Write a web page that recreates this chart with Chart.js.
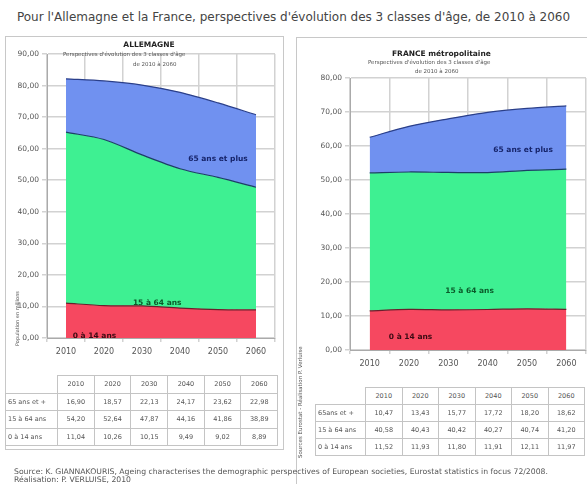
<!DOCTYPE html>
<html>
<head>
<meta charset="utf-8">
<script src="https://cdn.jsdelivr.net/npm/chart.js@4.4.0/dist/chart.umd.min.js"></script>
<style>
    body { margin: 0; background: #fff; font-family: "DejaVu Sans", Verdana, sans-serif; }
    #page { position: relative; width: 587px; height: 484px; overflow: hidden; }
    .abs { position: absolute; white-space: nowrap; }
    .panel { position: absolute; border: 1px solid #c8c8c8; box-sizing: border-box; }
    canvas { position: absolute; }
    table { position: absolute; border-collapse: collapse; font-size: 6.5px; color: #555; table-layout: fixed; }
    td { border: 1px solid #c4c4c4; text-align: center; padding: 0; overflow: hidden; white-space: nowrap; }
    td.lab { text-align: left; padding-left: 2px; }
    td.blank { border: none; }
</style>
</head>
<body>
<div id="page">
    <div class="abs" style="left:0;top:10px;width:587px;text-align:center;font-size:12px;color:#444;">Pour l'Allemagne et la France, perspectives d'évolution des 3 classes d'âge, de 2010 à 2060</div>

    <div class="panel" style="left:5px;top:36px;width:279px;height:414px;"></div>
    <div class="panel" style="left:296px;top:37px;width:292px;height:460px;"></div>

    <canvas id="chartDe" width="278" height="330" style="left:5px;top:36px;"></canvas>
    <canvas id="chartFr" width="290" height="340" style="left:297px;top:37px;"></canvas>

    <div class="abs" style="left:0;top:40px;width:298px;text-align:center;font-size:7.5px;font-weight:bold;color:#222;">ALLEMAGNE</div>
    <div class="abs" style="left:63px;top:51px;font-size:5.5px;color:#555;">Perspectives d'évolution des 3 classes d'âge</div>
    <div class="abs" style="left:133px;top:61px;font-size:5.5px;color:#555;">de 2010 à 2060</div>

    <div class="abs" style="left:392px;top:49px;font-size:7.5px;font-weight:bold;color:#222;">FRANCE métropolitaine</div>
    <div class="abs" style="left:368px;top:59px;font-size:5.5px;color:#555;">Perspectives d'évolution des 3 classes d'âge</div>
    <div class="abs" style="left:415px;top:68px;font-size:5.5px;color:#555;">de 2010 à 2060</div>

    <div class="abs" style="left:14px;top:346px;font-size:5px;color:#555;transform:rotate(-90deg);transform-origin:0 0;">Population en millions</div>
    <div class="abs" style="left:297px;top:458px;font-size:5.5px;color:#555;transform:rotate(-90deg);transform-origin:0 0;">Sources Eurostat - Réalisation P. Verluise</div>

    <table id="tableDe" style="left:5px;top:375px;width:272px;"></table>
    <table id="tableFr" style="left:315px;top:387px;width:269px;"></table>

    <div class="abs" style="left:14px;top:467px;font-size:7.7px;color:#555;">Source: K. GIANNAKOURIS, Ageing characterises the demographic perspectives of European societies, Eurostat statistics in focus 72/2008.</div>
    <div class="abs" style="left:14px;top:475px;font-size:7.7px;color:#555;">Réalisation: P. VERLUISE, 2010</div>
</div>

<script>
// categories
const years = ['2010', '2020', '2030', '2040', '2050', '2060'];
const rowLabels = ['65 ans et +', '15 à 64 ans', '0 à 14 ans'];
const rowLabelsFr = ['65ans et +', '15 à 64 ans', '0 à 14 ans'];

// Allemagne (millions)
const de65plus = [16.90, 18.57, 22.13, 24.17, 23.62, 22.98];
const de15to64 = [54.20, 52.64, 47.87, 44.16, 41.86, 38.89];
const de0to14 = [11.04, 10.26, 10.15, 9.49, 9.02, 8.89];

// France métropolitaine (millions)
const fr65plus = [10.47, 13.43, 15.77, 17.72, 18.20, 18.62];
const fr15to64 = [40.58, 40.43, 40.42, 40.27, 40.74, 41.20];
const fr0to14 = [11.52, 11.93, 11.80, 11.91, 12.11, 11.97];

const fmt = v => v.toFixed(2).replace('.', ',');

/**
 * Draws the class names inside the areas, placed with the chart scales
 */
const areaLabels = {
    id: 'areaLabels',
    afterDatasetsDraw(chart, args, opts) {
        const ctx = chart.ctx;
        ctx.save();
        ctx.font = 'bold 7.5px "DejaVu Sans", sans-serif';
        ctx.textAlign = 'center';
        ctx.textBaseline = 'middle';
        (opts.items || []).forEach(item => {
            const x = chart.scales.x.getPixelForValue(item.at);
            const y = chart.scales.y.getPixelForValue(item.value);
            ctx.fillStyle = item.color;
            ctx.fillText(item.text, x, y);
        });
        ctx.restore();
    }
};

function makeChart(id, young, adult, old, yMax, geo, labels) {
    const ctx = document.getElementById(id);
    return new Chart(ctx, {
        type: 'line',
        data: {
            labels: years,
            datasets: [
                { label: '0 à 14 ans', data: young, fill: 'origin', backgroundColor: 'rgb(246,72,96)', borderColor: '#6a1f2c', borderWidth: 1.2 },
                { label: '15 à 64 ans', data: adult, fill: '-1', backgroundColor: 'rgb(62,240,146)', borderColor: '#1c3f66', borderWidth: 1.2 },
                { label: '65 ans et plus', data: old, fill: '-1', backgroundColor: 'rgb(112,145,240)', borderColor: '#2a3f8a', borderWidth: 1.2 }
            ]
        },
        options: {
            responsive: false,
            animation: false,
            devicePixelRatio: 1,
            elements: { point: { radius: 0 }, line: { tension: 0.3 } },
            layout: { padding: { left: 0, top: geo.top, right: geo.right, bottom: geo.bottom } },
            scales: {
                x: {
                    offset: true,
                    grid: { offset: true, color: '#d2d2d2', lineWidth: 1.5, tickLength: 4 },
                    border: { color: '#aaa' },
                    ticks: { color: '#555', font: { size: 8, family: 'DejaVu Sans' }, padding: 5, maxRotation: 0 },
                    afterFit: s => { s.height = 20; }
                },
                y: {
                    stacked: true,
                    min: 0,
                    max: yMax,
                    grid: { color: '#d2d2d2', lineWidth: 1.5, tickLength: 5 },
                    border: { color: '#aaa' },
                    ticks: { stepSize: 10, color: '#555', font: { size: 7.5, family: 'DejaVu Sans' }, padding: 3, callback: v => fmt(v) },
                    afterFit: s => { s.width = geo.left; }
                }
            },
            plugins: {
                legend: { display: false },
                tooltip: { enabled: false },
                areaLabels: { items: labels }
            }
        },
        plugins: [areaLabels]
    });
}

makeChart('chartDe', de0to14, de15to64, de65plus, 90,
    { left: 42, top: 18, right: 8, bottom: 8 },
    [
        { text: '65 ans et plus', at: 4, value: 56.7, color: '#16246a' },
        { text: '15 à 64 ans', at: 2.4, value: 11.1, color: '#0b5a2a' },
        { text: '0 à 14 ans', at: 0.75, value: 0.7, color: '#3a0a12' }
    ]);

makeChart('chartFr', fr0to14, fr15to64, fr65plus, 80,
    { left: 53, top: 41, right: 1, bottom: 7 },
    [
        { text: '65 ans et plus', at: 3.9, value: 58.8, color: '#16246a' },
        { text: '15 à 64 ans', at: 2.54, value: 17.3, color: '#0b5a2a' },
        { text: '0 à 14 ans', at: 1.04, value: 3.8, color: '#3a0a12' }
    ]);

/**
 * Build the value table under a chart
 */
function fillTable(id, labels, series, labelWidth, colWidth, rowHeight) {
    const table = document.getElementById(id);
    let html = '<colgroup><col style="width:' + labelWidth + 'px">';
    years.forEach(() => { html += '<col style="width:' + colWidth + 'px">'; });
    html += '</colgroup>';
    html += '<tr style="height:' + rowHeight + 'px"><td class="blank"></td>';
    years.forEach(y => { html += '<td>' + y + '</td>'; });
    html += '</tr>';
    series.forEach((values, i) => {
        html += '<tr style="height:' + rowHeight + 'px"><td class="lab">' + labels[i] + '</td>';
        values.forEach(v => { html += '<td>' + fmt(v) + '</td>'; });
        html += '</tr>';
    });
    table.innerHTML = html;
}

fillTable('tableDe', rowLabels, [de65plus, de15to64, de0to14], 52, 36.7, 17.5);
fillTable('tableFr', rowLabelsFr, [fr65plus, fr15to64, fr0to14], 50, 36.5, 17);
</script>
</body>
</html>
